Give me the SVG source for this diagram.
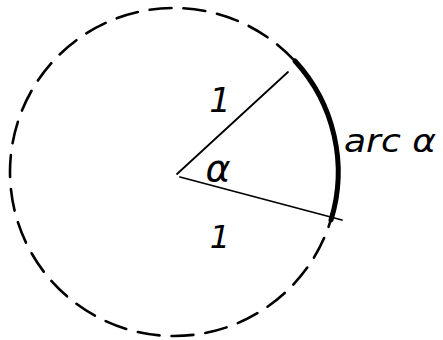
<svg xmlns="http://www.w3.org/2000/svg" width="443" height="340" viewBox="0 0 443 340">
<style>
.dash{fill:none;stroke:#000;stroke-width:2.6;stroke-dasharray:22 12;stroke-linecap:round}
.rad{fill:none;stroke:#000;stroke-width:1.8;stroke-linecap:round}
.arc{fill:none;stroke:#000;stroke-width:5;stroke-linecap:round}
.lbl{font-family:"DejaVu Sans","Liberation Sans",sans-serif;fill:#000}
</style>
<rect width="443" height="340" fill="#fff"/>
<g id="circle">
<circle class="dash" cx="174" cy="172" r="164"/>
</g>
<g id="connectors">
<line class="rad" x1="177" y1="174" x2="288" y2="72"/>
<line class="rad" x1="180" y1="177" x2="342" y2="220"/>
<path class="arc" d="M 295 61 A 164 164 0 0 1 331 220"/>
</g>
<g id="labels">
<text class="lbl" x="220" y="112" font-size="34" font-style="italic" text-anchor="middle">1</text>
<text class="lbl" x="220" y="248" font-size="32" font-style="italic" text-anchor="middle">1</text>
<text class="lbl" x="218" y="181" font-size="38" font-style="italic" text-anchor="middle">α</text>
<text class="lbl" x="344" y="152" font-size="32" font-style="italic" textLength="92" lengthAdjust="spacingAndGlyphs">arc α</text>
</g>
</svg>
